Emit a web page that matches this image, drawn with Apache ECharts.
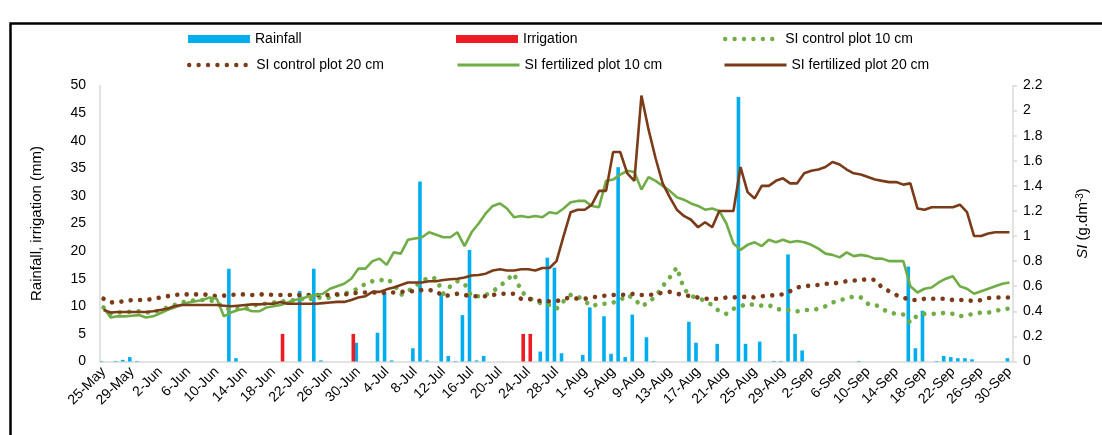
<!DOCTYPE html>
<html>
<head>
<meta charset="utf-8">
<script src="https://cdn.jsdelivr.net/npm/echarts@6/dist/echarts.min.js"></script>
<style>
	html, body {margin:0; padding:0; background:#fff;}
	#main {width:1102px; height:435px;}
</style>
</head>
<body>
<div id="main"></div>
<script>
// months shown on the axis: name, first day, last day
var months = [['May',25,31],['Jun',1,30],['Jul',1,31],['Aug',1,31],['Sep',1,30]];
var dates = [];
for(var m = 0; m < months.length; m++){
	for(var d = months[m][1]; d <= months[m][2]; d++){
		dates.push(d + '-' + months[m][0]);
	}
}

// mm, left axis
var rainfall = [
	0.1,0,0.1,0.3,0.8,0.1,0,0,0,0,
	0,0,0,0,0,0,0,0,16.8,0.6,
	0,0,0,0,0,0,0,0,12.8,0,
	16.8,0.2,0,0,0,0,3.4,0,0,5.2,
	12.6,0.2,0,0,2.4,32.6,0.2,0,12.3,1.0,
	0.1,8.4,20.2,0.2,1.0,0,0,0,0,0,
	0,0,1.8,18.8,17.0,1.5,0,0,1.2,9.8,
	0,8.2,1.4,35.2,0.8,8.5,0,4.4,0.1,0,
	0,0,0,7.2,3.4,0,0,3.2,0,0,
	47.9,3.2,0,3.6,0,0.1,0.1,19.4,5.0,2.0,
	0,0,0,0,0,0,0,0.1,0,0,
	0,0,0,0,17.2,2.4,9.2,0,0.1,1.0,
	0.8,0.6,0.6,0.4,0,0,0,0,0.6
];
var irrigation = [
	0,0,0,0,0,0,0,0,0,0,
	0,0,0,0,0,0,0,0,0,0,
	0,0,0,0,0,5,0,0,0,0,
	0,0,0,0,0,5,0,0,0,0,
	0,0,0,0,0,0,0,0,0,0,
	0,0,0,0,0,0,0,0,0,5,
	5,0,0,0,0,0,0,0,0,0,
	0,0,0,0,0,0,0,0,0,0,
	0,0,0,0,0,0,0,0,0,0,
	0,0,0,0,0,0,0,0,0,0,
	0,0,0,0,0,0,0,0,0,0,
	0,0,0,0,0,0,0,0,0,0,
	0,0,0,0,0,0,0,0,0
];

// SI g.dm-3, right axis
var siControl10 = [
	0.43,0.38,0.39,0.39,0.40,0.40,0.39,0.39,0.41,0.43,
	0.45,0.47,0.48,0.49,0.49,0.49,0.47,0.43,0.41,0.42,
	0.42,0.44,0.46,0.46,0.47,0.48,0.48,0.49,0.50,0.49,
	0.52,0.50,0.51,0.53,0.54,0.56,0.58,0.62,0.64,0.645,
	0.66,0.62,0.53,0.56,0.60,0.64,0.67,0.66,0.54,0.60,
	0.64,0.62,0.52,0.52,0.53,0.56,0.60,0.65,0.70,0.56,
	0.51,0.48,0.46,0.45,0.42,0.48,0.53,0.52,0.48,0.44,
	0.46,0.46,0.47,0.49,0.53,0.50,0.44,0.47,0.52,0.60,
	0.67,0.75,0.58,0.52,0.51,0.48,0.45,0.40,0.38,0.42,
	0.44,0.46,0.45,0.445,0.45,0.42,0.41,0.41,0.40,0.41,
	0.41,0.42,0.44,0.47,0.49,0.50,0.52,0.51,0.46,0.455,
	0.42,0.39,0.38,0.375,0.31,0.37,0.38,0.38,0.38,0.39,
	0.38,0.36,0.37,0.38,0.39,0.39,0.40,0.42,0.42
];
var siControl20 = [
	0.50,0.47,0.475,0.48,0.49,0.49,0.49,0.50,0.51,0.52,
	0.53,0.535,0.535,0.535,0.535,0.53,0.52,0.525,0.53,0.535,
	0.535,0.53,0.535,0.535,0.53,0.53,0.53,0.53,0.53,0.53,
	0.53,0.53,0.53,0.535,0.535,0.54,0.55,0.55,0.55,0.55,
	0.545,0.55,0.555,0.56,0.56,0.57,0.57,0.56,0.52,0.53,
	0.54,0.53,0.52,0.52,0.52,0.53,0.54,0.54,0.54,0.50,
	0.50,0.49,0.48,0.48,0.48,0.50,0.51,0.50,0.50,0.51,
	0.52,0.525,0.53,0.53,0.535,0.54,0.53,0.53,0.535,0.55,
	0.555,0.54,0.53,0.52,0.51,0.50,0.50,0.50,0.51,0.51,
	0.515,0.515,0.51,0.52,0.525,0.53,0.535,0.56,0.59,0.60,
	0.605,0.61,0.62,0.62,0.63,0.64,0.645,0.65,0.655,0.65,
	0.59,0.56,0.53,0.51,0.49,0.49,0.50,0.50,0.50,0.50,
	0.49,0.49,0.49,0.48,0.49,0.505,0.51,0.51,0.51
];
var siFert10 = [
	0.43,0.35,0.36,0.36,0.365,0.37,0.35,0.36,0.385,0.41,
	0.43,0.45,0.47,0.48,0.49,0.51,0.50,0.36,0.39,0.41,
	0.42,0.40,0.40,0.43,0.44,0.45,0.47,0.49,0.50,0.52,
	0.53,0.54,0.58,0.60,0.62,0.66,0.74,0.74,0.80,0.82,
	0.77,0.87,0.86,0.97,0.98,0.99,1.03,1.01,0.99,0.99,
	1.03,0.92,1.03,1.10,1.18,1.24,1.26,1.22,1.15,1.16,
	1.15,1.16,1.15,1.19,1.18,1.22,1.27,1.28,1.28,1.24,
	1.23,1.44,1.45,1.49,1.52,1.51,1.37,1.47,1.44,1.40,
	1.36,1.31,1.29,1.26,1.24,1.21,1.22,1.20,1.10,0.94,
	0.89,0.93,0.95,0.92,0.97,0.95,0.97,0.95,0.96,0.95,
	0.93,0.90,0.86,0.85,0.83,0.87,0.84,0.85,0.84,0.82,
	0.82,0.80,0.80,0.80,0.60,0.55,0.58,0.59,0.63,0.66,
	0.68,0.60,0.58,0.54,0.56,0.58,0.60,0.62,0.63
];
var siFert20 = [
	0.41,0.39,0.395,0.395,0.395,0.395,0.395,0.40,0.41,0.42,
	0.44,0.45,0.45,0.45,0.45,0.45,0.45,0.445,0.44,0.445,
	0.45,0.455,0.455,0.46,0.46,0.475,0.46,0.46,0.46,0.46,
	0.46,0.465,0.47,0.475,0.475,0.49,0.51,0.52,0.555,0.555,
	0.575,0.59,0.61,0.63,0.63,0.63,0.64,0.64,0.65,0.655,
	0.66,0.67,0.685,0.69,0.70,0.725,0.735,0.725,0.725,0.735,
	0.735,0.725,0.745,0.745,0.80,1.00,1.19,1.21,1.21,1.25,
	1.36,1.36,1.67,1.67,1.50,1.44,2.12,1.85,1.62,1.42,
	1.31,1.21,1.16,1.13,1.07,1.11,1.07,1.20,1.20,1.20,
	1.55,1.35,1.30,1.40,1.40,1.44,1.46,1.42,1.42,1.50,
	1.52,1.53,1.55,1.59,1.57,1.53,1.50,1.49,1.47,1.45,
	1.44,1.43,1.43,1.41,1.42,1.22,1.21,1.23,1.23,1.23,
	1.23,1.25,1.19,1.00,1.00,1.02,1.03,1.03,1.03
];

var FONT = 'Liberation Sans';
var BLUE = '#00AEEF', RED = '#ED1C24', GREEN = '#70AD47', BROWN = '#7B3B19';
var DOTS = [0.01, 9.4];

function legendItem(name, left, top, width, icon, lineStyle){
	var lg = {
		data:[name], left:left, top:top,
		itemWidth:width, itemHeight:8,
		selectedMode:false,
		textStyle:{fontFamily:FONT, fontSize:14, color:'#000'}
	};
	if(icon){
		lg.icon = icon;
	}else{
		// line series: keep only the stroke, hide the marker
		lg.itemStyle = {opacity:0};
		lg.lineStyle = lineStyle;
	}
	return lg;
}

var myChart = echarts.init(document.getElementById('main'));
var option = {
	animation:false,
	backgroundColor:'#fff',
	textStyle:{fontFamily:FONT},
	graphic:[{
		type:'rect', left:8, top:21,
		shape:{width:1200, height:500},
		style:{fill:'none', stroke:'#000', lineWidth:2.5}
	}],
	legend:[
		legendItem('Rainfall', 183, 27, 62, 'rect'),
		legendItem('Irrigation', 451, 27, 62, 'rect'),
		legendItem('SI control plot 10 cm', 718, 27, 55, null, {width:4.4, type:DOTS, cap:'round', opacity:1}),
		legendItem('SI control plot 20 cm', 182, 53, 62, null, {width:4.4, type:DOTS, cap:'round', opacity:1}),
		legendItem('SI fertilized plot 10 cm', 451, 53, 62, null, {width:3, opacity:1}),
		legendItem('SI fertilized plot 20 cm', 718, 53, 62, null, {width:3, opacity:1})
	],
	grid:{left:100, right:89, top:85.5, bottom:73.5},
	xAxis:{
		type:'category',
		data:dates,
		boundaryGap:true,
		axisLine:{lineStyle:{color:'#d9d9d9', width:1.5}},
		axisTick:{show:false},
		axisLabel:{interval:3, rotate:45, margin:8, fontSize:14, color:'#000', fontFamily:FONT}
	},
	yAxis:[{
		type:'value', min:0, max:50, interval:5,
		name:'Rainfall, irrigation (mm)',
		nameLocation:'middle', nameRotate:90, nameGap:56,
		nameTextStyle:{fontSize:15, color:'#000', fontFamily:FONT},
		axisLine:{show:true, lineStyle:{color:'#d9d9d9', width:1.5}},
		axisTick:{show:false},
		splitLine:{show:false},
		axisLabel:{margin:14, fontSize:14, color:'#000', fontFamily:FONT}
	},{
		type:'value', min:0, max:2.2, interval:0.2, position:'right',
		name:'{i|SI} (g.dm{s|-3})',
		nameLocation:'middle', nameRotate:90, nameGap:62,
		nameTextStyle:{
			fontSize:15, color:'#000', fontFamily:FONT,
			rich:{
				i:{fontStyle:'italic', fontSize:15, fontFamily:FONT, color:'#000'},
				s:{fontSize:10, verticalAlign:'top', fontFamily:FONT, color:'#000'}
			}
		},
		axisLine:{show:true, lineStyle:{color:'#d9d9d9', width:1.5}},
		axisTick:{show:true, length:4, lineStyle:{color:'#d9d9d9', width:1.5}},
		splitLine:{show:false},
		axisLabel:{
			margin:10, fontSize:14, color:'#000', fontFamily:FONT,
			formatter:function(v){ return String(+v.toFixed(1)); }
		}
	}],
	series:[{
		name:'Rainfall', type:'bar', data:rainfall,
		barWidth:3.6, barGap:'15%',
		itemStyle:{color:BLUE}
	},{
		name:'Irrigation', type:'bar', data:irrigation,
		barWidth:3.6, barGap:'15%',
		itemStyle:{color:RED}
	},{
		name:'SI control plot 10 cm', type:'line', yAxisIndex:1, data:siControl10,
		symbol:'none', color:GREEN,
		lineStyle:{color:GREEN, width:4.6, type:DOTS, cap:'round'}
	},{
		name:'SI control plot 20 cm', type:'line', yAxisIndex:1, data:siControl20,
		symbol:'none', color:BROWN,
		lineStyle:{color:BROWN, width:4.6, type:DOTS, cap:'round'}
	},{
		name:'SI fertilized plot 10 cm', type:'line', yAxisIndex:1, data:siFert10,
		symbol:'none', color:GREEN,
		lineStyle:{color:GREEN, width:2.6}
	},{
		name:'SI fertilized plot 20 cm', type:'line', yAxisIndex:1, data:siFert20,
		symbol:'none', color:BROWN,
		lineStyle:{color:BROWN, width:2.6}
	}]
};
myChart.setOption(option);
</script>
</body>
</html>
